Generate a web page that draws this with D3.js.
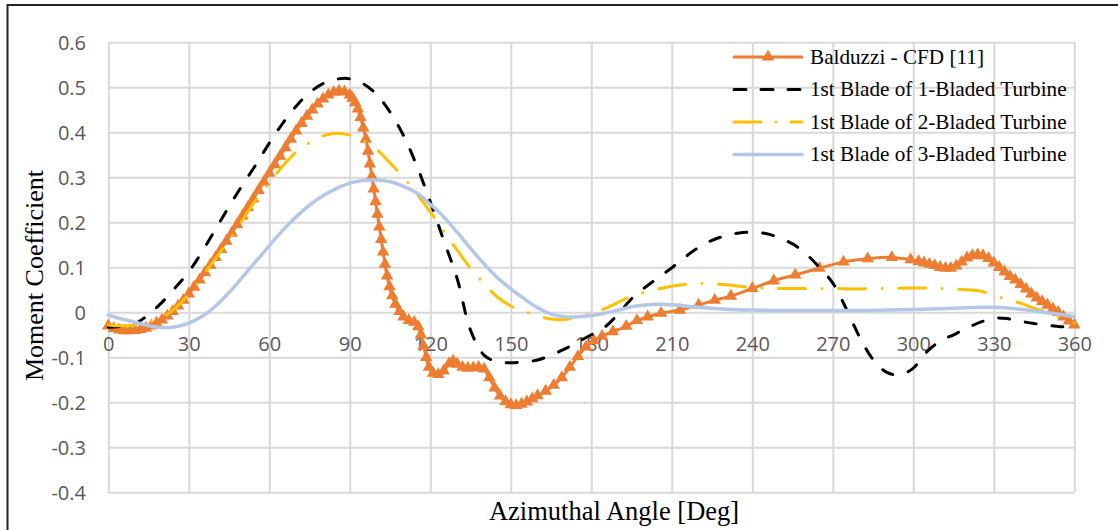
<!DOCTYPE html>
<html>
<head>
<meta charset="utf-8">
<script src="https://cdn.jsdelivr.net/npm/d3@7"></script>
<style>
  html, body { margin: 0; padding: 0; background: #fff; }
  svg { display: block; }
</style>
</head>
<body>
<svg id="chart" width="1118" height="530"></svg>
<script>
// ---------------- DATA ----------------
const seriesNames = [
  "Balduzzi - CFD [11]",
  "1st Blade of 1-Bladed Turbine",
  "1st Blade of 2-Bladed Turbine",
  "1st Blade of 3-Bladed Turbine"
];
const xTicks = [0, 30, 60, 90, 120, 150, 180, 210, 240, 270, 300, 330, 360];
const yTicks = [-0.4, -0.3, -0.2, -0.1, 0, 0.1, 0.2, 0.3, 0.4, 0.5, 0.6];
const xTitle = "Azimuthal Angle [Deg]";
const yTitle = "Moment Coefficient";

// Balduzzi CFD [angle, Cm]
const cfd = [
  [0,-0.030],[2,-0.036],[4,-0.039],[6,-0.041],[8,-0.041],[10,-0.040],[12,-0.038],[14,-0.035],
  [16,-0.030],[18,-0.024],[20,-0.017],[22,-0.008],[24,0.002],[26,0.014],[28,0.027],[30,0.041],
  [32,0.056],[34,0.072],[36,0.088],[38,0.105],[40,0.122],[42,0.140],[44,0.158],[46,0.176],
  [48,0.195],[50,0.214],[52,0.233],[54,0.252],[56,0.271],[58,0.290],[60,0.309],[62,0.328],
  [64,0.347],[66,0.366],[68,0.385],[70,0.403],[72,0.420],[74,0.436],[76,0.450],[78,0.463],
  [80,0.474],[82,0.483],[84,0.489],[86,0.492],[88,0.490],[90,0.483],[91,0.476],[92,0.466],
  [93,0.452],[94,0.433],[95,0.410],[96,0.385],[96.8,0.358],[97.5,0.330],[98.2,0.302],[98.9,0.274],
  [99.6,0.246],[100.3,0.218],[101,0.190],[101.7,0.162],[102.4,0.134],[103.1,0.107],[103.9,0.081],
  [104.8,0.057],[105.8,0.037],[107,0.018],[108.5,0.002],[110,-0.010],[112,-0.018],[114,-0.022],
  [115.5,-0.032],[116.5,-0.050],[117.5,-0.075],[118.5,-0.100],[119.5,-0.122],[121,-0.135],
  [123,-0.138],[125,-0.130],[127,-0.114],[128.5,-0.108],[130,-0.115],[132,-0.122],[134,-0.124],
  [136,-0.123],[138,-0.122],[140,-0.126],[142,-0.145],[144,-0.168],[146,-0.186],[148,-0.198],
  [150,-0.205],[152,-0.207],[154,-0.204],[156,-0.199],[158,-0.192],[160,-0.185],[163,-0.175],
  [166,-0.162],[169,-0.145],[172,-0.122],[175,-0.098],[178,-0.077],[181,-0.063],[184,-0.053],
  [188,-0.043],[193,-0.031],[197,-0.018],[201,-0.010],[206,-0.002],[213,0.005],[220,0.016],
  [226,0.027],[232,0.036],[240,0.053],[248,0.070],[256,0.083],[265,0.098],[274,0.112],
  [283,0.119],[292,0.122],[299,0.117],[302,0.113],[304,0.110],[306,0.107],[308,0.104],
  [310,0.100],[312,0.098],[314,0.098],[316,0.103],[318,0.112],[320,0.121],[322,0.126],
  [324,0.128],[326,0.126],[328,0.120],[330,0.110],[332,0.100],[334,0.090],[336,0.080],
  [338,0.072],[340,0.062],[342,0.052],[344,0.041],[346,0.032],[348,0.024],[350,0.016],
  [352,0.008],[354,0.000],[356,-0.010],[358,-0.019],[360,-0.028]
];

// 1-bladed turbine
const blade1 = [
  [0,-0.033],[5,-0.031],[10,-0.025],[15,-0.005],[20,0.022],[25,0.055],[30,0.090],[35,0.135],
  [40,0.185],[45,0.235],[50,0.283],[55,0.328],[60,0.376],[65,0.420],[70,0.458],[75,0.488],
  [80,0.508],[85,0.518],[90,0.519],[95,0.508],[100,0.484],[105,0.445],[110,0.393],[115,0.325],
  [120,0.245],[125,0.160],[130,0.075],[135,-0.040],[140,-0.095],[145,-0.110],[150,-0.112],
  [155,-0.110],[160,-0.106],[165,-0.095],[170,-0.082],[175,-0.066],[180,-0.050],[185,-0.033],
  [190,-0.004],[195,0.030],[200,0.055],[205,0.077],[210,0.099],[215,0.123],[220,0.144],
  [225,0.160],[230,0.170],[235,0.176],[240,0.178],[245,0.175],[250,0.166],[255,0.152],
  [260,0.130],[265,0.100],[270,0.065],[275,0.008],[280,-0.055],[285,-0.105],[290,-0.133],
  [295,-0.139],[300,-0.124],[305,-0.088],[310,-0.064],[315,-0.050],[320,-0.035],[325,-0.022],
  [330,-0.013],[335,-0.014],[340,-0.020],[345,-0.025],[350,-0.029],[355,-0.032],[360,-0.034]
];

// 2-bladed turbine
const blade2 = [
  [0,-0.028],[5,-0.030],[10,-0.028],[15,-0.022],[20,-0.012],[25,0.010],[30,0.040],[35,0.080],
  [40,0.120],[45,0.160],[50,0.205],[55,0.250],[60,0.288],[65,0.325],[70,0.356],[75,0.377],
  [80,0.392],[85,0.398],[90,0.394],[95,0.382],[100,0.362],[105,0.332],[110,0.300],[115,0.263],
  [120,0.223],[125,0.180],[130,0.138],[135,0.098],[140,0.064],[145,0.034],[150,0.014],
  [155,0.002],[160,-0.008],[165,-0.015],[170,-0.016],[175,-0.010],[180,-0.003],[185,0.008],
  [190,0.022],[195,0.036],[200,0.045],[205,0.052],[210,0.058],[215,0.062],[220,0.064],
  [225,0.063],[230,0.061],[235,0.058],[240,0.055],[245,0.053],[250,0.053],[260,0.053],
  [270,0.053],[280,0.052],[290,0.053],[300,0.054],[310,0.053],[320,0.050],[325,0.047],
  [330,0.038],[335,0.028],[340,0.020],[345,0.009],[350,-0.001],[355,-0.012],[360,-0.024]
];

// 3-bladed turbine
const blade3 = [
  [0,-0.006],[5,-0.015],[10,-0.022],[15,-0.030],[20,-0.034],[25,-0.032],[30,-0.024],[35,-0.009],
  [40,0.014],[45,0.044],[50,0.078],[55,0.113],[60,0.148],[65,0.182],[70,0.212],[75,0.238],
  [80,0.259],[85,0.275],[90,0.287],[95,0.293],[100,0.294],[105,0.290],[110,0.280],[115,0.265],
  [120,0.240],[125,0.212],[130,0.178],[135,0.142],[140,0.108],[145,0.077],[150,0.052],
  [155,0.030],[160,0.010],[165,-0.004],[170,-0.010],[175,-0.010],[180,-0.007],[185,-0.002],
  [190,0.005],[195,0.012],[200,0.016],[205,0.018],[210,0.017],[215,0.014],[220,0.011],
  [230,0.007],[240,0.005],[250,0.004],[260,0.004],[270,0.004],[280,0.004],[290,0.005],
  [300,0.006],[310,0.008],[320,0.010],[330,0.011],[340,0.007],[345,0.003],[350,-0.001],
  [355,-0.005],[360,-0.010]
];

// ---------------- CHART ----------------
const svg = d3.select("#chart");
const W = 1118, H = 530;
const plot = { left: 108.3, right: 1074.3, top: 42.3, bottom: 492.3 };

const x = d3.scaleLinear().domain([0, 360]).range([plot.left, plot.right]);
const y = d3.scaleLinear().domain([-0.4, 0.6]).range([plot.bottom, plot.top]);

svg.append("rect").attr("width", W).attr("height", H).attr("fill", "#fff");

// outer frame (top & left visible)
svg.append("path")
  .attr("d", `M7.5,${H} V5 H${W}`)
  .attr("fill", "none").attr("stroke", "#262626").attr("stroke-width", 2);

// gridlines
const gridColor = "#d9d9d9";
const gx = svg.append("g")
  .attr("transform", `translate(0,${plot.bottom})`)
  .call(d3.axisBottom(x).tickValues(xTicks).tickSize(-(plot.bottom - plot.top)).tickFormat(""));
const gy = svg.append("g")
  .attr("transform", `translate(${plot.left},0)`)
  .call(d3.axisLeft(y).tickValues(yTicks).tickSize(-(plot.right - plot.left)).tickFormat(""));
[gx, gy].forEach(g => {
  g.select(".domain").remove();
  g.selectAll(".tick line").attr("stroke", gridColor).attr("stroke-width", 2);
});

// tick labels
const tickFont = "'Open Sans', 'DejaVu Sans', sans-serif";
const xl = svg.append("g")
  .attr("transform", `translate(0,${y(0)})`)
  .call(d3.axisBottom(x).tickValues(xTicks).tickSize(0).tickPadding(0).tickFormat(d3.format("d")));
xl.select(".domain").remove();
xl.selectAll("text")
  .attr("y", 0).attr("dy", 38.5)
  .attr("font-family", tickFont).attr("font-size", 20).attr("fill", "#595959");

const yl = svg.append("g")
  .attr("transform", `translate(86,0)`)
  .call(d3.axisLeft(y).tickValues(yTicks).tickSize(0).tickPadding(0)
    .tickFormat(d => d === 0 ? "0" : d3.format(".1f")(d).replace("−", "-")));
yl.select(".domain").remove();
yl.selectAll("text")
  .attr("x", 0).attr("dy", "0.36em")
  .attr("font-family", tickFont).attr("font-size", 20).attr("fill", "#595959");

// axis titles
const serif = "'Liberation Serif', 'Times New Roman', serif";
svg.append("text")
  .attr("x", 614).attr("y", 519.5).attr("text-anchor", "middle")
  .attr("font-family", serif).attr("font-size", 26.5).attr("fill", "#000")
  .text(xTitle);
svg.append("text")
  .attr("transform", `translate(42.5,275.5) rotate(-90)`)
  .attr("text-anchor", "middle")
  .attr("font-family", serif).attr("font-size", 26).attr("fill", "#000")
  .text(yTitle);

// series
const line = d3.line().x(d => x(d[0])).y(d => y(d[1])).curve(d3.curveCatmullRom.alpha(0.5));

const styles = [
  { color: "#ED7D31", width: 3, dash: null, cap: "round" },
  { color: "#000000", width: 3, dash: "11,16", cap: "round" },
  { color: "#FFC000", width: 3, dash: "27,16.5,0.1,16.5", cap: "round" },
  { color: "#B4C7E7", width: 3.5, dash: null, cap: "round" }
];
const allSeries = [cfd, blade1, blade2, blade3];

const tri = d3.symbol().type(d3.symbolTriangle).size(68);

// CFD line + markers
svg.append("path").datum(cfd).attr("d", line)
  .attr("fill", "none").attr("stroke", styles[0].color).attr("stroke-width", styles[0].width)
  .attr("stroke-linejoin", "round");
svg.append("g").selectAll("path").data(cfd).join("path")
  .attr("d", tri)
  .attr("transform", d => `translate(${x(d[0])},${y(d[1])})`)
  .attr("fill", styles[0].color);

// model lines
[1, 2, 3].forEach(i => {
  const s = styles[i];
  const p = svg.append("path").datum(allSeries[i]).attr("d", line)
    .attr("fill", "none").attr("stroke", s.color).attr("stroke-width", s.width)
    .attr("stroke-linecap", s.cap).attr("stroke-linejoin", "round");
  if (s.dash) p.attr("stroke-dasharray", s.dash);
});

// legend
const legRows = [57, 89.5, 122, 154.5];
const leg = svg.append("g");
seriesNames.forEach((name, i) => {
  const s = styles[i];
  const ly = legRows[i];
  const l = leg.append("line")
    .attr("x1", 734).attr("x2", 802).attr("y1", ly).attr("y2", ly)
    .attr("stroke", s.color).attr("stroke-width", s.width).attr("stroke-linecap", s.cap);
  if (s.dash) l.attr("stroke-dasharray", i === 1 ? "12,15" : "27,15,0.1,15");
  if (i === 0) {
    leg.append("path").attr("d", tri).attr("transform", `translate(768,${ly})`).attr("fill", s.color);
  }
  leg.append("text")
    .attr("x", 810).attr("y", ly + 6.5)
    .attr("font-family", serif).attr("font-size", 21.2).attr("fill", "#000")
    .text(name);
});
</script>
</body>
</html>
